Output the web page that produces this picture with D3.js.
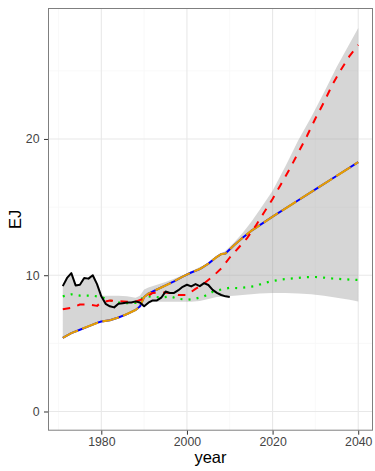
<!DOCTYPE html>
<html>
<head>
<meta charset="utf-8">
<script src="https://cdn.jsdelivr.net/npm/d3@7/dist/d3.min.js"></script>
<style>
  html, body { margin: 0; padding: 0; background: #fff; }
  svg { display: block; font-family: "Liberation Sans", Arial, Helvetica, sans-serif; }
</style>
</head>
<body>
<svg id="chart" width="375" height="471"></svg>
<script>
// Historical series (EJ per year)
const histYears = [1971,1972,1973,1974,1975,1976,1977,1978,1979,1980,1981,1982,1983,1984,1985,1986,1987,1988,1989,1990,
                   1991,1992,1993,1994,1995,1996,1997,1998,1999,2000,2001,2002,2003,2004,2005,2006,2007,2008,2009,2010];
const histValues = [9.2,9.8,10.15,9.25,9.3,9.8,9.75,10.0,9.35,8.45,7.9,7.72,7.64,7.9,7.95,8.0,8.0,8.08,8.0,7.72,
                    7.98,8.15,8.15,8.35,8.8,8.7,8.7,8.9,9.15,9.3,9.18,9.35,9.2,9.42,9.28,8.92,8.7,8.55,8.45,8.4];

// Red (high) scenario
const redYears = [1971,1973,1975,1977,1979,1980,1982,1984,1986,1988,1990,1992,1994,1996,1998,2000,2002,2004,2006,2008,
                  2010,2012,2014,2016,2018,2020,2022,2024,2026,2028,2030,2032,2034,2036,2038,2040];
const redValues = [7.5,7.6,7.85,7.85,7.75,8.0,8.15,8.1,8.05,8.05,8.3,8.7,8.75,8.7,8.55,8.55,9.0,9.4,9.9,10.5,
                   11.3,12.0,12.7,13.6,14.6,15.6,16.7,17.8,19.0,20.2,21.5,22.7,24.0,25.1,26.1,26.9];

// Trend scenario (drawn twice: blue underneath, orange dashes on top)
const trendYears = [1971,1973,1975,1977,1979,1980,1982,1984,1986,1988,1989,1990,1991,1993,1995,1997,1999,2001,2003,2005,
                    2007,2008,2009,2011,2013,2015,2020,2025,2030,2035,2040];
const trendValues = [5.4,5.75,6.0,6.25,6.5,6.6,6.7,6.9,7.15,7.45,7.7,8.4,8.65,8.95,9.25,9.55,9.9,10.2,10.45,10.85,
                     11.35,11.55,11.6,12.2,12.75,13.25,14.3,15.3,16.3,17.3,18.3];

// Green (flat) scenario
const greenYears = [1971,1973,1975,1978,1980,1982,1984,1986,1988,1990,1992,1994,1996,1998,2000,2002,2004,2006,2008,2010,
                    2012,2014,2016,2018,2020,2022,2024,2026,2028,2030,2032,2034,2036,2038,2040];
const greenValues = [8.45,8.6,8.5,8.5,8.4,8.15,8.0,7.95,7.97,8.4,8.45,8.35,8.45,8.27,8.2,8.28,8.45,8.78,8.95,9.08,
                     9.05,9.12,9.2,9.43,9.57,9.68,9.75,9.8,9.86,9.87,9.82,9.76,9.72,9.68,9.65];

// Uncertainty band
const bandYears = [1971,1972,1973,1974,1975,1976,1977,1978,1979,1980,1982,1984,1986,1988,1989,1990,1991,1993,1995,1997,
                   1999,2001,2003,2005,2007,2009,2011,2013,2015,2017,2020,2023,2026,2029,2032,2035,2038,2040];
const bandUpper = [9.2,9.8,10.15,9.25,9.3,9.8,9.75,10.0,9.35,8.5,8.5,8.5,8.45,8.35,8.5,8.95,9.1,9.3,9.5,9.75,
                   10.0,10.3,10.6,10.85,11.3,11.8,12.4,13.1,13.9,14.8,16.2,18.0,19.9,21.6,23.4,25.3,27.0,28.15];
const bandLower = [5.4,5.55,5.75,5.9,6.0,6.1,6.25,6.4,6.5,6.6,6.7,6.9,7.15,7.45,7.7,7.7,8.0,8.05,8.05,8.05,
                   8.05,8.05,8.1,8.25,8.4,8.45,8.5,8.55,8.6,8.65,8.7,8.7,8.65,8.6,8.5,8.35,8.2,8.08];

// Axis ticks
const xMajor = [1980, 2000, 2020, 2040];
const xMinor = [1970, 1990, 2010, 2030];
const yMajor = [0, 10, 20];
const yMinor = [5, 15, 25];

const svg = d3.select("#chart");
const panel = { left: 48, top: 8, right: 373, bottom: 430.7 };

const x = d3.scaleLinear().domain([1967.55, 2043.45]).range([panel.left, panel.right]);
const y = d3.scaleLinear().domain([-1.41, 29.61]).range([panel.bottom, panel.top]);

svg.append("defs").append("clipPath").attr("id", "clip")
  .append("rect")
  .attr("x", panel.left).attr("y", panel.top)
  .attr("width", panel.right - panel.left).attr("height", panel.bottom - panel.top);

// Grid
const grid = svg.append("g");
grid.selectAll(".vmin").data(xMinor).join("line")
  .attr("x1", d => x(d)).attr("x2", d => x(d))
  .attr("y1", panel.top).attr("y2", panel.bottom)
  .attr("stroke", "#f7f7f7").attr("stroke-width", 0.8);
grid.selectAll(".hmin").data(yMinor).join("line")
  .attr("y1", d => y(d)).attr("y2", d => y(d))
  .attr("x1", panel.left).attr("x2", panel.right)
  .attr("stroke", "#f7f7f7").attr("stroke-width", 0.8);
grid.selectAll(".vmaj").data(xMajor).join("line")
  .attr("x1", d => x(d)).attr("x2", d => x(d))
  .attr("y1", panel.top).attr("y2", panel.bottom)
  .attr("stroke", "#e8e8e8").attr("stroke-width", 1.1);
grid.selectAll(".hmaj").data(yMajor).join("line")
  .attr("y1", d => y(d)).attr("y2", d => y(d))
  .attr("x1", panel.left).attr("x2", panel.right)
  .attr("stroke", "#e8e8e8").attr("stroke-width", 1.1);

const plot = svg.append("g").attr("clip-path", "url(#clip)");

// Band
const band = bandYears.map((yr, i) => ({ yr, lo: bandLower[i], hi: bandUpper[i] }));
plot.append("path")
  .datum(band)
  .attr("d", d3.area().x(d => x(d.yr)).y0(d => y(d.lo)).y1(d => y(d.hi)))
  .attr("fill", "#999999").attr("fill-opacity", 0.4);

const line = d3.line().x(d => x(d[0])).y(d => y(d[1]));
const zip = (a, b) => a.map((v, i) => [v, b[i]]);

function drawSeries(years, values, color, width, dash) {
  plot.append("path")
    .datum(zip(years, values))
    .attr("d", line)
    .attr("fill", "none")
    .attr("stroke", color)
    .attr("stroke-width", width)
    .attr("stroke-linejoin", "round")
    .attr("stroke-dasharray", dash);
}

drawSeries(greenYears, greenValues, "#00e000", 2.2, "2,6.1");
drawSeries(trendYears, trendValues, "#0000ff", 2, null);
drawSeries(trendYears, trendValues, "#e69f00", 2.1, "17,4.5");
drawSeries(redYears, redValues, "#ff0000", 2, "7.5,7.5");
drawSeries(histYears, histValues, "#000000", 2, null);

// Panel border
svg.append("rect")
  .attr("x", panel.left + 0.5).attr("y", panel.top + 0.5)
  .attr("width", panel.right - panel.left - 1).attr("height", panel.bottom - panel.top - 1)
  .attr("fill", "none").attr("stroke", "#7f7f7f").attr("stroke-width", 1);

// Axes
const xAxis = svg.append("g")
  .attr("transform", `translate(0,${panel.bottom})`)
  .call(d3.axisBottom(x).tickValues(xMajor).tickFormat(d3.format("d")).tickSize(4).tickPadding(3));
const yAxis = svg.append("g")
  .attr("transform", `translate(${panel.left},0)`)
  .call(d3.axisLeft(y).tickValues(yMajor).tickFormat(d3.format("d")).tickSize(4).tickPadding(4.5));

[xAxis, yAxis].forEach(g => {
  g.select(".domain").remove();
  g.selectAll(".tick line").attr("stroke", "#333333");
  g.selectAll(".tick text")
    .attr("fill", "#444444")
    .style("font-size", "12.3px")
    .style("font-family", "'Liberation Sans', Arial, sans-serif");
});

// Axis titles
svg.append("text")
  .attr("x", (panel.left + panel.right) / 2)
  .attr("y", 463)
  .attr("text-anchor", "middle")
  .style("font-size", "16.5px")
  .attr("fill", "#000")
  .text("year");

svg.append("text")
  .attr("transform", `translate(21,${(panel.top + panel.bottom) / 2}) rotate(-90)`)
  .attr("text-anchor", "middle")
  .style("font-size", "16.5px")
  .attr("fill", "#000")
  .text("EJ");
</script>
</body>
</html>
